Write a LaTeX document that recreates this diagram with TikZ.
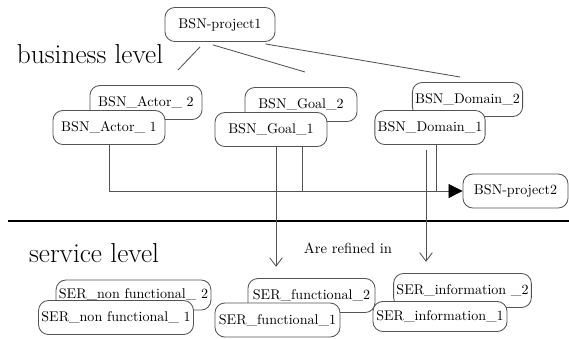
\documentclass[tikz,border=0pt]{standalone}
\usetikzlibrary{arrows.meta,calc}
\tikzset{every path/.style={gray!65!black, line width=0.6pt},
  bsn/.style={draw, rounded corners=7pt, fill=white, text=black, minimum height=0.85cm, inner xsep=2pt, font=\fontsize{10}{12}\selectfont},
  lvl/.style={text=black, anchor=base, font=\fontsize{19.5}{22}\selectfont},
  refine/.style={-{Straight Barb[length=6pt,width=9pt]}, shorten >=8},
  joins/.style={-{Triangle[length=10pt,width=10pt,color=black]}}}

\begin{document}
\begin{tikzpicture}[x=0.025cm, y=-0.025cm]
   \useasboundingbox (0,0) rectangle (569,338);
   \begin{scope}
    \node[bsn, minimum width=2.75cm] (p1) at (220,24.5) {BSN-project1};
    \node[lvl] (bl) at (90,63) {business level};
    \node[bsn, minimum width=2.8cm]   (a2) at (146,102.5) {BSN\_Actor\_ 2};
    \node[bsn, minimum width=2.8cm]   (a1) at (109,127.5) {BSN\_Actor\_ 1};
    \node[bsn, minimum width=2.8cm]   (g2) at (301,104.5) {BSN\_Goal\_2};
    \node[bsn, minimum width=2.8cm]   (g1) at (271,129.5) {BSN\_Goal\_1};
    \node[bsn, minimum width=2.725cm] (d2) at (467.5,99.5) {BSN\_Domain\_2};
    \node[bsn, minimum width=2.75cm]  (d1) at (430,127.5) {BSN\_Domain\_1};
    \node[bsn, minimum width=2.625cm] (p2) at (515.5,191) {BSN-project2};
    \coordinate (aTip) at (178,70);
    \coordinate (gTip) at (305,72);
    \coordinate (dTip) at (460,77);
    \draw ($(p1.south)+(-20,5)$) -- (aTip);
    \draw ($(p1.south)+(-7,3)$) -- (gTip);
    \draw ($(p1.south east)+(-10,2)$) -- (dTip);
   \end{scope}
   \draw[black, line width=2pt] (8,221) -- (569,221);
   \begin{scope}
    \node[lvl] (sl) at (94,262) {service level};
    \node[lvl, font=\fontsize{10.4}{12}\selectfont] (ri) at (348,253) {Are refined in};
    \node[bsn, minimum width=3.675cm, minimum height=0.75cm] (nf2) at (133.5,295) {SER\_non functional\_ 2};
    \node[bsn, minimum width=3.7cm]   (nf1) at (116,317.5) {SER\_non functional\_ 1};
    \node[bsn, minimum width=3.175cm] (fn2) at (311.5,295.5) {SER\_functional\_2};
    \node[bsn, minimum width=3.125cm] (fn1) at (277.5,320) {SER\_functional\_1};
    \node[bsn, minimum width=3.375cm] (in2) at (462.5,290.5) {SER\_information \_2};
    \node[bsn, minimum width=3.35cm, minimum height=0.75cm] (in1) at (440,316.5) {SER\_information\_1};
   \end{scope}
   \coordinate (gL) at ($(g1.south)+(5,0)$);
   \coordinate (gR) at ($(g1.south)+(31,0)$);
   \coordinate (dL) at ($(d1.south)+(-4,5)$);
   \coordinate (dR) at ($(d1.south)+(6,0)$);
   \draw[joins] (a1.south) |- (p2.west);
   \draw (gR) -- (gR |- p2.west);
   \draw (dR) -- (dR |- p2.west);
   \draw[refine] (gL) -- (gL |- fn2.north);
   \draw[refine] (dL) -- (dL |- in2.north);
  \end{tikzpicture}
\end{document}
